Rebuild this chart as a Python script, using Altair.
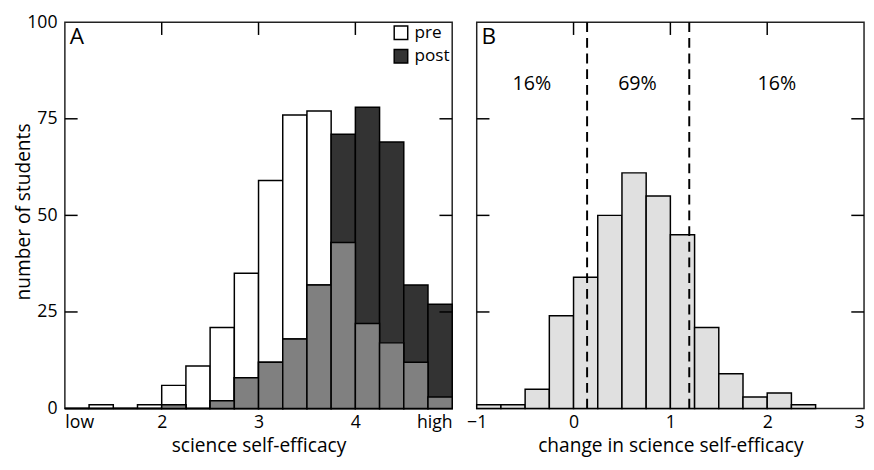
import altair as alt
import pandas as pd

# ---------------- data ----------------
bin_start_a = [1.0, 1.25, 1.5, 1.75, 2.0, 2.25, 2.5, 2.75, 3.0, 3.25, 3.5, 3.75, 4.0, 4.25, 4.5, 4.75]
pre_counts = [0, 1, 0, 1, 6, 11, 21, 35, 59, 76, 77, 43, 22, 17, 12, 3]
post_counts = [0, 0, 0, 0, 1, 0, 2, 8, 12, 18, 32, 71, 78, 69, 32, 27]
bin_width = 0.25

bin_start_b = [-1.0, -0.75, -0.5, -0.25, 0.0, 0.25, 0.5, 0.75, 1.0, 1.25, 1.5, 1.75, 2.0, 2.25]
change_counts = [1, 1, 5, 24, 34, 50, 61, 55, 45, 21, 9, 3, 4, 1]

cutoffs = [0.14, 1.195]
pct_labels = ["16%", "69%", "16%"]
pct_x = [-0.43, 0.66, 2.10]
pct_y = [84, 84, 84]

y_ticks = [25, 50, 75]
top_ticks_a = [2, 3, 4]
top_ticks_b = [0, 1, 2]
x_labels_a = [1, 2, 3, 4, 5]
x_labels_b = [-1, 0, 1, 2, 3]
y_labels = [0, 25, 50, 75, 100]

FONT = "Open Sans"
W, W2, H = 395, 395, 394
TICK = 13
FS = 18
TFS = 19.5

# ---------------- frames ----------------
dfA = pd.DataFrame({"start": bin_start_a, "pre": pre_counts, "post": post_counts})
dfA["end"] = dfA["start"] + bin_width
dfA["overlap"] = dfA[["pre", "post"]].min(axis=1)
long_a = pd.concat([
    pd.DataFrame({"start": dfA["start"], "end": dfA["end"], "count": dfA["pre"], "series": "pre"}),
    pd.DataFrame({"start": dfA["start"], "end": dfA["end"], "count": dfA["post"], "series": "post"}),
])
dfB = pd.DataFrame({"start": bin_start_b, "count": change_counts})
dfB["end"] = dfB["start"] + bin_width

y_scale = alt.Scale(domain=[0, 100], nice=False)
xa_scale = alt.Scale(domain=[1, 5], nice=False, zero=False)
xb_scale = alt.Scale(domain=[-1, 3], nice=False, zero=False)

ax_common = dict(ticks=False, domain=False, grid=False, labelFontSize=FS, titleFontSize=TFS,
                 labelFont=FONT, titleFont=FONT, titleFontWeight="normal", labelColor="black",
                 titleColor="black", format="d")

# ---------------- panel A ----------------
xA = alt.X("start:Q", scale=xa_scale,
           axis=alt.Axis(values=x_labels_a, labelFlush=True,
                         labelExpr="datum.value == 1 ? 'low' : datum.value == 5 ? 'high' : datum.label",
                         title="science self-efficacy", labelPadding=5, titlePadding=6, **ax_common))
yA = alt.Y("count:Q", scale=y_scale, stack=None,
           axis=alt.Axis(values=y_labels, title="number of students", labelPadding=8,
                         titleX=-42, titleY=193, titleAlign="center", titleBaseline="middle",
                         **ax_common))

color = alt.Color("series:N", scale=alt.Scale(domain=["pre", "post"], range=["white", "#333333"]),
                  legend=alt.Legend(orient="none", legendX=334, legendY=2, title=None,
                                    symbolType="square", symbolSize=190, symbolStrokeColor="black",
                                    symbolStrokeWidth=1.5, symbolOpacity=1, labelFontSize=17.5,
                                    labelFont=FONT, labelColor="black", rowPadding=3, labelOffset=5))

bar_style = dict(stroke="black", strokeWidth=1.5, opacity=1)
pre_bars = alt.Chart(long_a).transform_filter("datum.series == 'pre'").mark_bar(**bar_style).encode(
    x=xA, x2="end:Q", y=yA, y2=alt.datum(0), color=color)
post_bars = alt.Chart(long_a).transform_filter("datum.series == 'post'").mark_bar(**bar_style).encode(
    x="start:Q", x2="end:Q", y=alt.Y("count:Q", scale=y_scale, stack=None), y2=alt.datum(0), color=color)
overlap_bars = alt.Chart(dfA).mark_bar(**bar_style, fill="#808080").encode(
    x="start:Q", x2="end:Q", y=alt.Y("overlap:Q", scale=y_scale, stack=None), y2=alt.datum(0))


def side_ticks(values, scale, width):
    d = pd.DataFrame({"v": values})
    left = alt.Chart(d).mark_rule(color="black", strokeWidth=1.5).encode(
        y=alt.Y("v:Q", scale=scale), x=alt.value(0), x2=alt.value(TICK))
    right = alt.Chart(d).mark_rule(color="black", strokeWidth=1.5).encode(
        y=alt.Y("v:Q", scale=scale), x=alt.value(width - TICK), x2=alt.value(width))
    return left + right


def top_ticks(values, scale):
    d = pd.DataFrame({"v": values})
    return alt.Chart(d).mark_rule(color="black", strokeWidth=1.5).encode(
        x=alt.X("v:Q", scale=scale), y=alt.value(0), y2=alt.value(TICK))


def panel_label(txt):
    return alt.Chart(pd.DataFrame({"t": [txt]})).mark_text(
        align="left", baseline="top", fontSize=23, font=FONT, color="black").encode(
        x=alt.value(5), y=alt.value(4), text="t:N")


panel_a = alt.layer(
    pre_bars, post_bars, overlap_bars,
    side_ticks(y_ticks, y_scale, W), top_ticks(top_ticks_a, xa_scale), panel_label("A")
).properties(width=W, height=H)

# ---------------- panel B ----------------
xB = alt.X("start:Q", scale=xb_scale,
           axis=alt.Axis(values=x_labels_b, labelFlush=False,
                         labelAlign={"condition": {"test": "datum.value == 3", "value": "right"},
                                     "value": "center"},
                         title="change in science self-efficacy",
                         labelPadding=5, titlePadding=6, **ax_common))
bars_b = alt.Chart(dfB).mark_bar(stroke="black", strokeWidth=1.5, fill="#e0e0e0", opacity=1).encode(
    x=xB, x2="end:Q", y=alt.Y("count:Q", scale=y_scale, axis=None), y2=alt.datum(0))

cut_df = pd.DataFrame({"c": cutoffs})
cut_rules = alt.Chart(cut_df).mark_rule(color="black", strokeWidth=2, strokeDash=[10, 6]).encode(
    x=alt.X("c:Q", scale=xb_scale), y=alt.value(0), y2=alt.value(H))

pct_df = pd.DataFrame({"label": pct_labels, "x": pct_x, "y": pct_y})
pct_text = alt.Chart(pct_df).mark_text(fontSize=20, font=FONT, color="black").encode(
    x=alt.X("x:Q", scale=xb_scale), y=alt.Y("y:Q", scale=y_scale), text="label:N")

panel_b = alt.layer(
    bars_b, cut_rules, pct_text,
    side_ticks(y_ticks, y_scale, W2), top_ticks(top_ticks_b, xb_scale), panel_label("B")
).properties(width=W2, height=H)

chart = alt.hconcat(panel_a, panel_b, spacing=11).properties(
    padding={"left": 5, "top": 0, "right": 0, "bottom": 0}
).configure_view(stroke="#222222", strokeWidth=1.5)

chart.save("out.html", embed_options={"renderer": "svg", "actions": False})
